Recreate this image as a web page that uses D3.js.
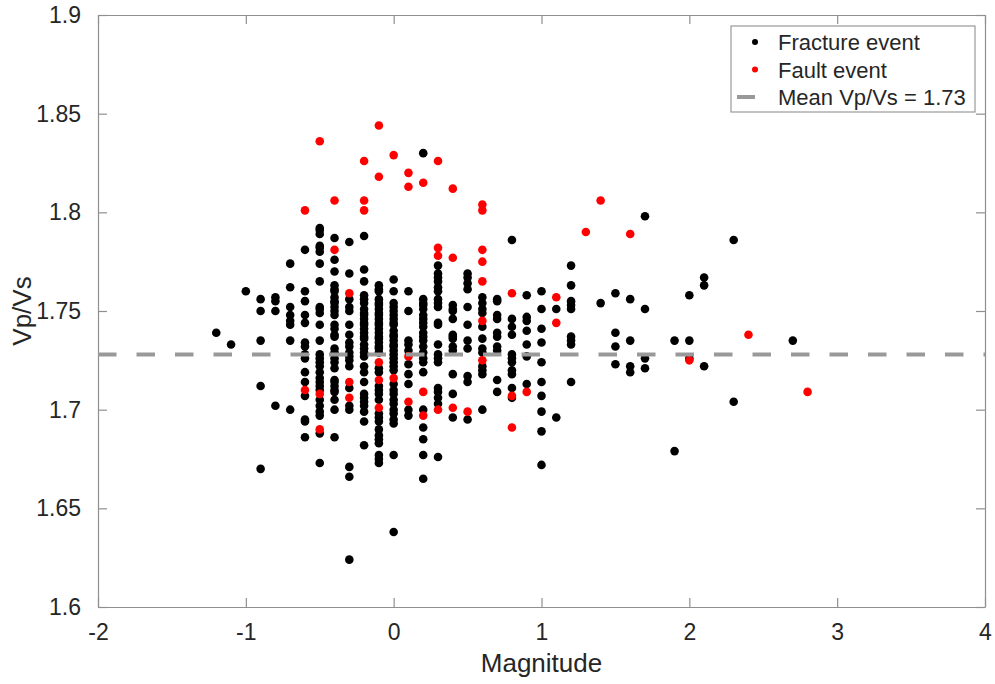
<!DOCTYPE html>
<html>
<head>
<meta charset="utf-8">
<script src="https://cdn.jsdelivr.net/npm/d3@7"></script>
<style>
    body { margin: 0; background: #fff; }
    .axis text { font-family: "Liberation Sans", Arial, Helvetica, sans-serif; font-size: 23px; fill: #262626; }
    .axis path, .axis line { stroke: #8f8f8f; stroke-width: 1.2; }
    .axis-title { font-family: "Liberation Sans", Arial, Helvetica, sans-serif; font-size: 26px; fill: #262626; }
    .legend text { font-family: "Liberation Sans", Arial, Helvetica, sans-serif; font-size: 22px; fill: #262626; }
</style>
</head>
<body>
<div id="chart-area"></div>
<script>

// Magnitude columns and the Vp/Vs values
var fractureEvents = [
    { mag: -1.2, vpvs: [1.739] },
    { mag: -1.1, vpvs: [1.733] },
    { mag: -1.0, vpvs: [1.760] },
    { mag: -0.9, vpvs: [1.756, 1.750, 1.735, 1.712, 1.670] },
    { mag: -0.8, vpvs: [1.757, 1.755, 1.750, 1.702] },
    { mag: -0.7, vpvs: [1.774, 1.762, 1.752, 1.748, 1.745, 1.743, 1.735, 1.700] },
    { mag: -0.6, vpvs: [1.781, 1.760, 1.755, 1.748, 1.744, 1.734, 1.732, 1.728, 1.726, 1.719, 1.714, 1.707, 1.695, 1.694, 1.686] },
    { mag: -0.5, vpvs: [1.792, 1.791, 1.789, 1.783, 1.782, 1.780, 1.774, 1.765, 1.752, 1.751, 1.749, 1.743, 1.735, 1.728,
                        1.726, 1.724, 1.722, 1.719, 1.716, 1.714, 1.712, 1.710, 1.705, 1.702, 1.699, 1.697, 1.688, 1.673] },
    { mag: -0.4, vpvs: [1.787, 1.776, 1.770, 1.763, 1.761, 1.760, 1.757, 1.755, 1.754, 1.752, 1.750, 1.748, 1.743, 1.741, 1.738,
                        1.737, 1.731, 1.729, 1.726, 1.724, 1.721, 1.715, 1.714, 1.712, 1.710, 1.709, 1.705, 1.700, 1.686] },
    { mag: -0.3, vpvs: [1.785, 1.769, 1.756, 1.752, 1.750, 1.743, 1.738, 1.734, 1.732, 1.729, 1.727, 1.725, 1.722, 1.711,
                        1.702, 1.700, 1.671, 1.666, 1.624] },
    { mag: -0.2, vpvs: [1.788, 1.771, 1.765, 1.758, 1.756, 1.754, 1.751, 1.749, 1.748, 1.746, 1.744, 1.743, 1.741, 1.739, 1.737,
                        1.736, 1.733, 1.731, 1.729, 1.727, 1.722, 1.719, 1.714, 1.708, 1.706, 1.704, 1.702, 1.699, 1.694, 1.682] },
    { mag: -0.1, vpvs: [1.763, 1.761, 1.760, 1.756, 1.754, 1.753, 1.751, 1.749, 1.748, 1.746, 1.744, 1.743, 1.741, 1.739, 1.737,
                        1.736, 1.734, 1.732, 1.731, 1.729, 1.721, 1.719, 1.712, 1.710, 1.708, 1.705, 1.698, 1.696, 1.694,
                        1.690, 1.687, 1.685, 1.683, 1.677, 1.675, 1.673] },
    { mag: 0.0, vpvs: [1.766, 1.760, 1.754, 1.752, 1.750, 1.748, 1.746, 1.744, 1.743, 1.740, 1.738, 1.737, 1.735, 1.733, 1.732,
                       1.730, 1.728, 1.726, 1.724, 1.722, 1.720, 1.713, 1.710, 1.708, 1.705, 1.703, 1.700, 1.698, 1.695,
                       1.693, 1.677, 1.638] },
    { mag: 0.1, vpvs: [1.760, 1.750, 1.735, 1.733, 1.730, 1.723, 1.718, 1.713, 1.700, 1.697] },
    { mag: 0.2, vpvs: [1.830, 1.756, 1.754, 1.753, 1.751, 1.748, 1.746, 1.744, 1.742, 1.739, 1.737, 1.735, 1.732, 1.729,
                       1.726, 1.724, 1.719, 1.700, 1.691, 1.685, 1.677, 1.665] },
    { mag: 0.3, vpvs: [1.773, 1.769, 1.767, 1.765, 1.762, 1.760, 1.756, 1.754, 1.752, 1.744, 1.743, 1.733, 1.728, 1.726,
                       1.724, 1.711, 1.709, 1.706, 1.703, 1.676] },
    { mag: 0.4, vpvs: [1.753, 1.751, 1.750, 1.746, 1.738, 1.737, 1.736, 1.732, 1.730, 1.718, 1.708, 1.696] },
    { mag: 0.5, vpvs: [1.769, 1.767, 1.764, 1.761, 1.752, 1.743, 1.735, 1.731, 1.717, 1.714, 1.695] },
    { mag: 0.6, vpvs: [1.757, 1.754, 1.751, 1.749, 1.742, 1.736, 1.731, 1.729, 1.722, 1.720, 1.718, 1.700] },
    { mag: 0.7, vpvs: [1.756, 1.755, 1.748, 1.746, 1.739, 1.737, 1.732, 1.730, 1.715, 1.709] },
    { mag: 0.8, vpvs: [1.786, 1.746, 1.742, 1.738, 1.728, 1.726, 1.724, 1.720, 1.718, 1.711, 1.706] },
    { mag: 0.9, vpvs: [1.758, 1.747, 1.745, 1.740, 1.733, 1.727, 1.713] },
    { mag: 1.0, vpvs: [1.760, 1.751, 1.741, 1.734, 1.724, 1.714, 1.707, 1.699, 1.689, 1.672] },
    { mag: 1.1, vpvs: [1.751, 1.696] },
    { mag: 1.2, vpvs: [1.773, 1.763, 1.755, 1.753, 1.751, 1.737, 1.735, 1.733, 1.714] },
    { mag: 1.4, vpvs: [1.754] },
    { mag: 1.5, vpvs: [1.759, 1.739, 1.732, 1.723] },
    { mag: 1.6, vpvs: [1.756, 1.735, 1.722, 1.719] },
    { mag: 1.7, vpvs: [1.798, 1.751, 1.726, 1.721] },
    { mag: 1.9, vpvs: [1.735, 1.679] },
    { mag: 2.0, vpvs: [1.758, 1.735, 1.726] },
    { mag: 2.1, vpvs: [1.767, 1.763, 1.722] },
    { mag: 2.3, vpvs: [1.786, 1.704] },
    { mag: 2.7, vpvs: [1.735] }
];

var faultEvents = [
    { mag: -0.6, vpvs: [1.801, 1.710] },
    { mag: -0.5, vpvs: [1.836, 1.708, 1.690] },
    { mag: -0.4, vpvs: [1.806, 1.781] },
    { mag: -0.3, vpvs: [1.759, 1.714, 1.706] },
    { mag: -0.2, vpvs: [1.826, 1.806, 1.801] },
    { mag: -0.1, vpvs: [1.844, 1.818, 1.724, 1.715, 1.701] },
    { mag: 0.0, vpvs: [1.829, 1.716] },
    { mag: 0.1, vpvs: [1.820, 1.813, 1.727, 1.704] },
    { mag: 0.2, vpvs: [1.815, 1.709, 1.697] },
    { mag: 0.3, vpvs: [1.826, 1.782, 1.778, 1.700] },
    { mag: 0.4, vpvs: [1.812, 1.777, 1.701] },
    { mag: 0.5, vpvs: [1.699] },
    { mag: 0.6, vpvs: [1.804, 1.801, 1.781, 1.775, 1.765, 1.745, 1.725] },
    { mag: 0.8, vpvs: [1.759, 1.707, 1.691] },
    { mag: 0.9, vpvs: [1.709] },
    { mag: 1.1, vpvs: [1.757, 1.744] },
    { mag: 1.3, vpvs: [1.790] },
    { mag: 1.4, vpvs: [1.806] },
    { mag: 1.6, vpvs: [1.789] },
    { mag: 2.0, vpvs: [1.725] },
    { mag: 2.4, vpvs: [1.738] },
    { mag: 2.8, vpvs: [1.709] }
];

var meanVpVs = 1.728;
var xTicks = [-2, -1, 0, 1, 2, 3, 4];
var yTicks = [1.6, 1.65, 1.7, 1.75, 1.8, 1.85, 1.9];
var legendLabels = ["Fracture event", "Fault event", "Mean Vp/Vs = 1.73"];


// flatten the columns into points
function toPoints(cols) {
    var pts = [];
    cols.forEach(function(c) {
        c.vpvs.forEach(function(v) {
            pts.push({ mag: c.mag, vpvs: v });
        });
    });
    return pts;
}

var margin = { top: 15, right: 10, bottom: 77, left: 98 };
var width = 995 - margin.left - margin.right,
    height = 684 - margin.top - margin.bottom;

var svg = d3.select("#chart-area").append("svg")
    .attr("width", 995)
    .attr("height", 684)
    .append("g")
    .attr("transform", "translate(" + margin.left + "," + margin.top + ")");

// Scales and axes
var x = d3.scaleLinear()
    .domain([-2, 4])
    .range([0, width]);

var y = d3.scaleLinear()
    .domain([1.6, 1.9])
    .range([height, 0]);

var fmt = function(d) { return String(+d.toFixed(2)); };

var xAxis = d3.axisBottom(x).tickValues(xTicks).tickSizeInner(-9).tickSizeOuter(0).tickPadding(17).tickFormat(fmt);
var yAxis = d3.axisLeft(y).tickValues(yTicks).tickSizeInner(-9).tickSizeOuter(0).tickPadding(17).tickFormat(fmt);

svg.append("g")
    .attr("class", "x-axis axis")
    .attr("transform", "translate(0," + height + ")")
    .call(xAxis);

svg.append("g")
    .attr("class", "y-axis axis")
    .call(yAxis);

// mirrored box edges (top / right) with ticks but no labels
svg.append("g")
    .attr("class", "axis")
    .call(d3.axisTop(x).tickValues(xTicks).tickSizeInner(-9).tickSizeOuter(0).tickFormat(""));

svg.append("g")
    .attr("class", "axis")
    .attr("transform", "translate(" + width + ",0)")
    .call(d3.axisRight(y).tickValues(yTicks).tickSizeInner(-9).tickSizeOuter(0).tickFormat(""));

svg.selectAll(".x-axis text").attr("dy", "0.71em");

// Axis titles
svg.append("text")
    .attr("class", "axis-title")
    .attr("x", width / 2)
    .attr("y", height + 65)
    .attr("text-anchor", "middle")
    .text("Magnitude");

svg.append("text")
    .attr("class", "axis-title")
    .attr("transform", "translate(" + (31 - margin.left) + "," + (height / 2) + ") rotate(-90)")
    .attr("text-anchor", "middle")
    .text("Vp/Vs");

// Points
svg.selectAll(".fracture")
    .data(toPoints(fractureEvents))
    .enter().append("circle")
    .attr("class", "fracture")
    .attr("cx", function(d) { return x(d.mag); })
    .attr("cy", function(d) { return y(d.vpvs); })
    .attr("r", 4.3)
    .attr("fill", "#000");

svg.selectAll(".fault")
    .data(toPoints(faultEvents))
    .enter().append("circle")
    .attr("class", "fault")
    .attr("cx", function(d) { return x(d.mag); })
    .attr("cy", function(d) { return y(d.vpvs); })
    .attr("r", 4.3)
    .attr("fill", "#ff0000");

// Mean line
svg.append("line")
    .attr("x1", x(-2))
    .attr("x2", x(4))
    .attr("y1", y(meanVpVs))
    .attr("y2", y(meanVpVs))
    .attr("stroke", "#999")
    .attr("stroke-width", 4)
    .attr("stroke-dasharray", "18.5,20");

// Legend
var legend = svg.append("g")
    .attr("class", "legend")
    .attr("transform", "translate(" + (731 - margin.left) + "," + (26 - margin.top) + ")");

legend.append("rect")
    .attr("width", 244)
    .attr("height", 86)
    .attr("fill", "#fff")
    .attr("stroke", "#999")
    .attr("stroke-width", 1.2);

legendLabels.forEach(function(label, i) {
    var row = legend.append("g").attr("transform", "translate(0," + (16 + i * 27.5) + ")");
    if (i < 2) {
        row.append("circle")
            .attr("cx", 24)
            .attr("cy", 0)
            .attr("r", 3)
            .attr("fill", i === 0 ? "#000" : "#ff0000");
    } else {
        row.append("line")
            .attr("x1", 6).attr("x2", 24)
            .attr("y1", 0).attr("y2", 0)
            .attr("stroke", "#999")
            .attr("stroke-width", 4);
    }
    row.append("text")
        .attr("x", 47)
        .attr("y", 8)
        .text(label);
});

</script>
</body>
</html>
